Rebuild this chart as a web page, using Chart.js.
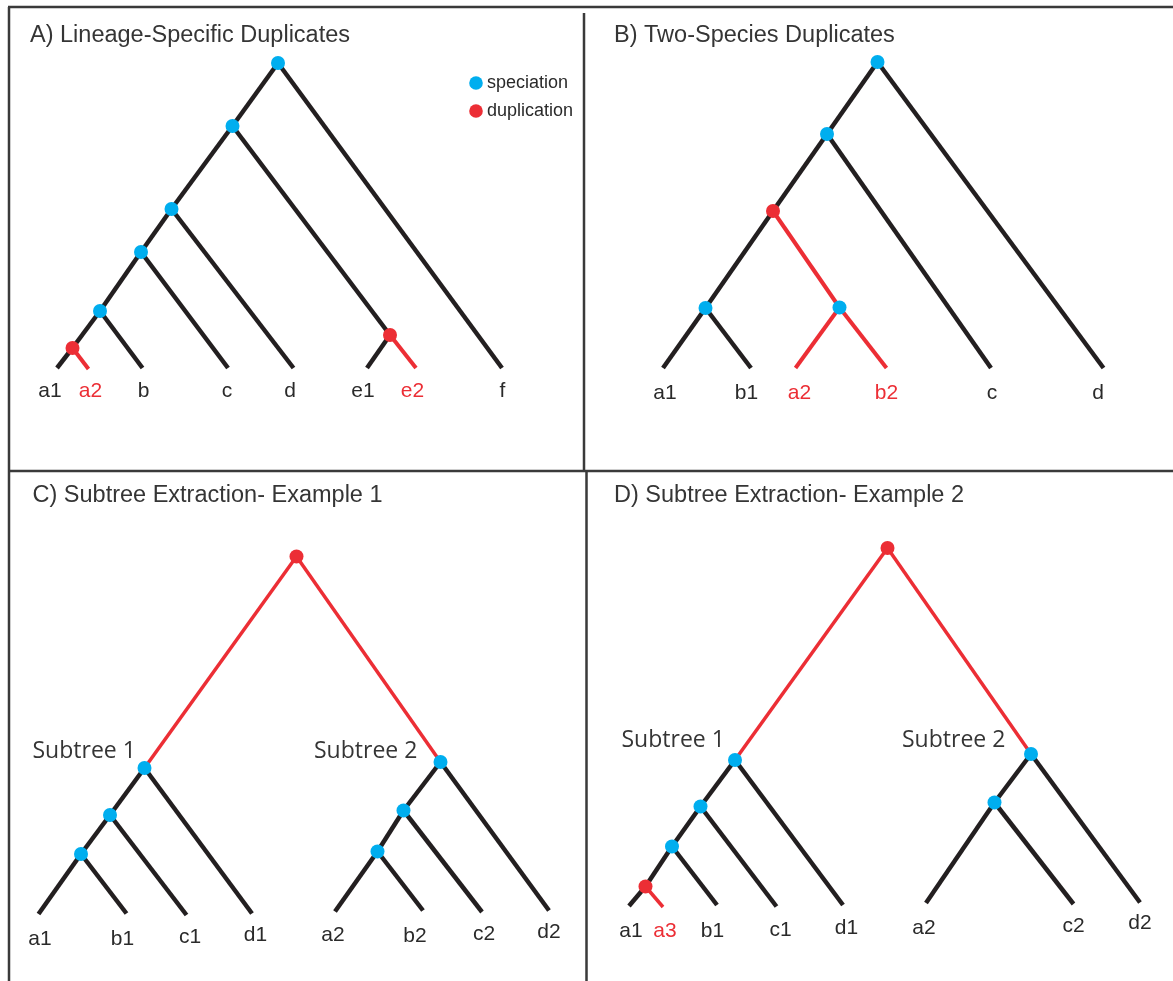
<!DOCTYPE html>
<html>
<head>
<meta charset="utf-8">
<title>Gene tree duplication scenarios</title>
<script src="https://cdn.jsdelivr.net/npm/chart.js@4.4.1/dist/chart.umd.min.js"></script>
<style>
  html, body { margin: 0; padding: 0; background: #ffffff; }
  #wrap { position: relative; width: 1173px; height: 981px; }
  canvas { display: block; }
</style>
</head>
<body>
<div id="wrap"><canvas id="trees" width="1173" height="981"></canvas></div>
<script>
// ---------- Tree data ----------
// Node coordinates: x across the sheet, y down the sheet.
// Node kinds: "spec" = speciation, "dup" = duplication, "leaf" = gene tip.

const panelTitles = [
  "A) Lineage-Specific Duplicates",
  "B) Two-Species Duplicates",
  "C) Subtree Extraction- Example 1",
  "D) Subtree Extraction- Example 2"
];
const legendLabels = ["speciation", "duplication"];
const subtreeLabels = ["Subtree 1", "Subtree 2"];

// Panel A
const nodesA = [
  ["A0", 278, 63, "spec"], ["A1", 232.5, 126, "spec"], ["A2", 171.5, 209, "spec"],
  ["A3", 141, 252, "spec"], ["A4", 100, 311, "spec"], ["A5", 72.5, 348, "dup"],
  ["A6", 390, 335, "dup"],
  ["a1", 57, 368, "leaf"], ["a2", 88.5, 369, "leaf"], ["b", 142.5, 368, "leaf"],
  ["c", 228, 368, "leaf"], ["d", 293.5, 368, "leaf"], ["e1", 367, 368, "leaf"],
  ["e2", 416, 368, "leaf"], ["f", 502, 368, "leaf"]
];
const edgesA = [
  ["A0", "A1", "k"], ["A0", "f", "k"], ["A1", "A2", "k"], ["A1", "A6", "k"],
  ["A2", "A3", "k"], ["A2", "d", "k"], ["A3", "A4", "k"], ["A3", "c", "k"],
  ["A4", "A5", "k"], ["A4", "b", "k"], ["A5", "a1", "k"], ["A5", "a2", "r"],
  ["A6", "e1", "k"], ["A6", "e2", "r"]
];
const tipsA = [
  ["a1", 50, 397, "k"], ["a2", 90.5, 397, "r"], ["b", 143.5, 397, "k"], ["c", 227, 397, "k"],
  ["d", 290, 397, "k"], ["e1", 363, 397, "k"], ["e2", 412.5, 397, "r"], ["f", 502.5, 397, "k"]
];

// Panel B
const nodesB = [
  ["B0", 877.5, 62, "spec"], ["B1", 827, 134, "spec"], ["B2", 773, 211, "dup"],
  ["B3", 705.5, 308, "spec"], ["B4", 839.5, 307.5, "spec"],
  ["a1", 663, 368, "leaf"], ["b1", 751, 368, "leaf"], ["a2", 795.5, 368, "leaf"],
  ["b2", 886.5, 368, "leaf"], ["c", 991, 368, "leaf"], ["d", 1103.5, 368, "leaf"]
];
const edgesB = [
  ["B0", "B1", "k"], ["B0", "d", "k"], ["B1", "B2", "k"], ["B1", "c", "k"],
  ["B2", "B3", "k"], ["B2", "B4", "r"], ["B3", "a1", "k"], ["B3", "b1", "k"],
  ["B4", "a2", "r"], ["B4", "b2", "r"]
];
const tipsB = [
  ["a1", 665, 399, "k"], ["b1", 746.5, 399, "k"], ["a2", 799.5, 399, "r"],
  ["b2", 886.5, 399, "r"], ["c", 992, 399, "k"], ["d", 1098, 399, "k"]
];

// Panel C
const nodesC = [
  ["C0", 296.5, 556.5, "dup"],
  ["C1", 144.5, 768, "spec"], ["C2", 110, 815, "spec"], ["C3", 81, 854, "spec"],
  ["a1", 38.5, 914, "leaf"], ["b1", 126.5, 913.5, "leaf"], ["c1", 186.5, 915, "leaf"], ["d1", 252, 913.5, "leaf"],
  ["C4", 440.5, 762, "spec"], ["C5", 403.5, 810.5, "spec"], ["C6", 377.5, 851.5, "spec"],
  ["a2", 335, 911.5, "leaf"], ["b2", 423, 910.5, "leaf"], ["c2", 482, 912, "leaf"], ["d2", 549, 910.5, "leaf"]
];
const edgesC = [
  ["C0", "C1", "r"], ["C0", "C4", "r"],
  ["C1", "C2", "k"], ["C1", "d1", "k"], ["C2", "C3", "k"], ["C2", "c1", "k"],
  ["C3", "a1", "k"], ["C3", "b1", "k"],
  ["C4", "C5", "k"], ["C4", "d2", "k"], ["C5", "C6", "k"], ["C5", "c2", "k"],
  ["C6", "a2", "k"], ["C6", "b2", "k"]
];
const tipsC = [
  ["a1", 40, 945, "k"], ["b1", 122.5, 945, "k"], ["c1", 190, 943, "k"], ["d1", 255.5, 941, "k"],
  ["a2", 333, 941, "k"], ["b2", 415, 941.5, "k"], ["c2", 484, 940, "k"], ["d2", 549, 937.5, "k"]
];

// Panel D
const nodesD = [
  ["D0", 887.5, 548, "dup"],
  ["D1", 735, 760, "spec"], ["D2", 700.5, 806.5, "spec"], ["D3", 672, 846.5, "spec"],
  ["D4", 645.5, 886.5, "dup"],
  ["a1", 629, 906, "leaf"], ["a3", 663, 907, "leaf"], ["b1", 717, 905, "leaf"],
  ["c1", 776.5, 906.5, "leaf"], ["d1", 843, 905, "leaf"],
  ["D5", 1031, 754, "spec"], ["D6", 994.5, 802.5, "spec"],
  ["a2", 926, 903, "leaf"], ["c2", 1073.5, 904, "leaf"], ["d2", 1140, 902.5, "leaf"]
];
const edgesD = [
  ["D0", "D1", "r"], ["D0", "D5", "r"],
  ["D1", "D2", "k"], ["D1", "d1", "k"], ["D2", "D3", "k"], ["D2", "c1", "k"],
  ["D3", "D4", "k"], ["D3", "b1", "k"], ["D4", "a1", "k"], ["D4", "a3", "r"],
  ["D5", "D6", "k"], ["D5", "d2", "k"], ["D6", "a2", "k"], ["D6", "c2", "k"]
];
const tipsD = [
  ["a1", 631, 937, "k"], ["a3", 665, 937, "r"], ["b1", 712.5, 937, "k"], ["c1", 780.5, 936, "k"],
  ["d1", 846.5, 933.5, "k"], ["a2", 924, 933.5, "k"], ["c2", 1073.5, 932, "k"], ["d2", 1140, 928.5, "k"]
];

// Frame lines separating the four panels: [x1, y1, x2, y2]
const frameLines = [
  [8, 7, 1173, 7],
  [9, 7, 9, 981],
  [9, 471, 1173, 471],
  [584, 13, 584, 471],
  [586.5, 471, 586.5, 981]
];

// ---------- Styling ----------
const INK = "#231f20";
const RED = "#ec2e35";
const BLUE = "#00aeef";
const FRAME = "#3a3a3a";
const TEXT = "#2a2a2a";
const TITLE = "#353535";
const SANS = '"Liberation Sans", Arimo, Arial, Helvetica, sans-serif';
const CAPTION = '"Open Sans", "Noto Sans", sans-serif';

const trees = [
  { nodes: nodesA, edges: edgesA, tips: tipsA, redWidth: 4 },
  { nodes: nodesB, edges: edgesB, tips: tipsB, redWidth: 4 },
  { nodes: nodesC, edges: edgesC, tips: tipsC, redWidth: 3.5 },
  { nodes: nodesD, edges: edgesD, tips: tipsD, redWidth: 3.5 }
];

// Text placements (left x, baseline y)
const titlePlaces = [[30, 42], [614, 42], [32.5, 502], [614, 502]];
const subtreePlaces = [[[32.5, 758], [314, 758]], [[621.5, 747], [902, 747]]];
const legendPlace = { dotX: 476, textX: 487, rows: [83, 111] };

// ---------- Build datasets ----------
const datasets = [];

trees.forEach((t) => {
  const pos = {};
  t.nodes.forEach(([id, x, y]) => { pos[id] = { x, y }; });
  const inner = t.nodes.filter((n) => n[3] !== "leaf");
  datasets.push({
    type: "scatter",
    data: inner.map((n) => ({ x: n[1], y: n[2] })),
    pointRadius: 7,
    pointHoverRadius: 7,
    pointBorderWidth: 0,
    pointBackgroundColor: inner.map((n) => (n[3] === "dup" ? RED : BLUE)),
    order: 0,
    clip: false
  });
  t.edges.forEach(([p, c, lin]) => {
    datasets.push({
      type: "line",
      data: [pos[p], pos[c]],
      borderColor: lin === "r" ? RED : INK,
      borderWidth: lin === "r" ? t.redWidth : 4.5,
      borderCapStyle: "butt",
      pointRadius: 0,
      fill: false,
      tension: 0,
      order: 1,
      clip: false
    });
  });
});

frameLines.forEach(([x1, y1, x2, y2]) => {
  datasets.push({
    type: "line",
    data: [{ x: x1, y: y1 }, { x: x2, y: y2 }],
    borderColor: FRAME,
    borderWidth: 2.5,
    borderCapStyle: "butt",
    pointRadius: 0,
    fill: false,
    order: 2,
    clip: false
  });
});

// ---------- Text and legend drawn on the chart's scales ----------
const annotationPlugin = {
  id: "treeText",
  afterDatasetsDraw(chart) {
    const { ctx, scales } = chart;
    const px = (v) => scales.x.getPixelForValue(v);
    const py = (v) => scales.y.getPixelForValue(v);
    ctx.save();
    ctx.textBaseline = "alphabetic";

    // panel titles
    ctx.font = "23.5px " + SANS;
    ctx.fillStyle = TITLE;
    ctx.textAlign = "left";
    panelTitles.forEach((txt, i) => {
      ctx.fillText(txt, px(titlePlaces[i][0]), py(titlePlaces[i][1]));
    });

    // tip labels
    ctx.font = "21px " + SANS;
    ctx.textAlign = "center";
    trees.forEach((t) => {
      t.tips.forEach(([txt, x, y, col]) => {
        ctx.fillStyle = col === "r" ? RED : TEXT;
        ctx.fillText(txt, px(x), py(y));
      });
    });

    // subtree captions
    ctx.font = "23px " + CAPTION;
    ctx.textAlign = "left";
    ctx.fillStyle = TITLE;
    subtreePlaces.forEach((pair) => {
      pair.forEach(([x, y], j) => ctx.fillText(subtreeLabels[j], px(x), py(y)));
    });

    // legend
    ctx.font = "18px " + SANS;
    ctx.textBaseline = "middle";
    legendLabels.forEach((txt, i) => {
      const y = py(legendPlace.rows[i]);
      ctx.beginPath();
      ctx.arc(px(legendPlace.dotX), y, 6.8, 0, Math.PI * 2);
      ctx.fillStyle = i === 0 ? BLUE : RED;
      ctx.fill();
      ctx.fillStyle = TEXT;
      ctx.fillText(txt, px(legendPlace.textX), y);
    });
    ctx.restore();
  }
};

function draw() {
  new Chart(document.getElementById("trees"), {
    type: "scatter",
    data: { datasets },
    options: {
      responsive: false,
      animation: false,
      devicePixelRatio: 1,
      layout: { padding: 0, autoPadding: false },
      events: [],
      plugins: { legend: { display: false }, tooltip: { enabled: false } },
      scales: {
        x: { type: "linear", min: 0, max: 1173, display: false },
        y: { type: "linear", min: 0, max: 981, reverse: true, display: false }
      }
    },
    plugins: [annotationPlugin]
  });
}

const fontLoads = document.fonts
  ? Promise.all([
      document.fonts.load('21px "Liberation Sans"'),
      document.fonts.load('23px "Open Sans"')
    ]).catch(() => null)
  : Promise.resolve();
fontLoads.then(draw, draw);
</script>
</body>
</html>
